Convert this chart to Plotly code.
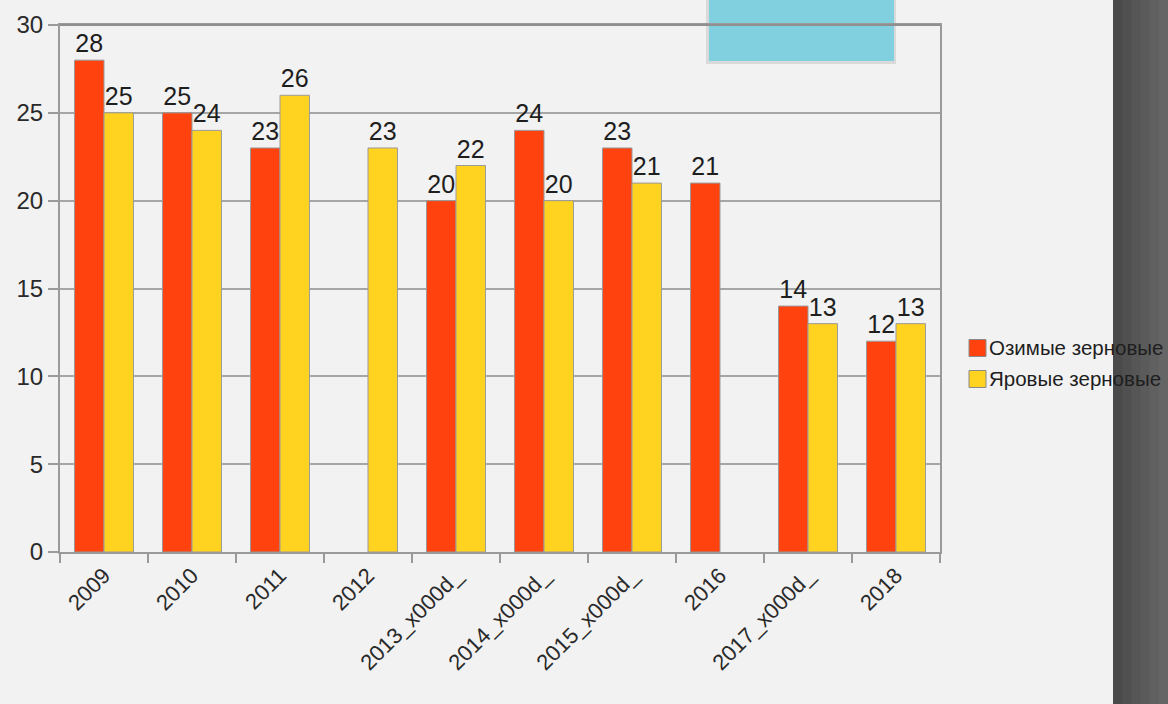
import plotly.graph_objects as go

categories = ["2009", "2010", "2011", "2012", "2013_x000d_", "2014_x000d_",
              "2015_x000d_", "2016", "2017_x000d_", "2018"]
winter = [28, 25, 23, None, 20, 24, 23, 21, 14, 12]
spring = [25, 24, 26, 23, 22, 20, 21, None, 13, 13]
series_names = ["Озимые зерновые", "Яровые зерновые"]
colors = ["#ff420e", "#ffd320"]

W, H = 1168, 704
ML, MR, MT, MB = 60, 228, 25, 152
PW = W - ML - MR
PH = H - MT - MB

def px_x(x):
    return (x - ML) / PW

def px_y(y):
    return (H - MB - y) / PH

fig = go.Figure()
for name, vals, col in zip(series_names, [winter, spring], colors):
    fig.add_trace(go.Bar(
        x=categories, y=vals, name=name,
        marker=dict(color=col, line=dict(color="#9a9a9a", width=1)),
        text=[("" if v is None else str(v)) for v in vals],
        textposition="outside", cliponaxis=False, constraintext="none",
        textfont=dict(size=25, color="#1e1e1e"),
    ))
# empty helper trace so the pixel-scaled overlay axis (used for the legend labels) is drawn
fig.add_trace(go.Scatter(x=[], y=[], xaxis="x", yaxis="y2", showlegend=False, hoverinfo="skip"))

shapes = []
# dark band on the right (stepped shading)
band_cols = ["#4a4a4a", "#505050", "#565656", "#5b5b5b", "#606060", "#656565"]
x0 = 1113
step = (W - x0) / len(band_cols)
for i, c in enumerate(band_cols):
    shapes.append(dict(type="rect", xref="paper", yref="paper",
                       x0=px_x(x0 + i * step), x1=px_x(x0 + (i + 1) * step + 1),
                       y0=px_y(H + 2), y1=px_y(-2), fillcolor=c, line_width=0, layer="below"))
# cyan box shadow and box at top
shapes.append(dict(type="rect", xref="paper", yref="paper",
                   x0=px_x(706), x1=px_x(896), y0=px_y(64), y1=px_y(-5),
                   fillcolor="rgba(0,0,0,0.10)", line_width=0, layer="below"))
shapes.append(dict(type="rect", xref="paper", yref="paper",
                   x0=px_x(709), x1=px_x(894), y0=px_y(61), y1=px_y(-5),
                   fillcolor="#80d0df", line_width=0, layer="below"))
# top frame line (drawn above the cyan box)
shapes.append(dict(type="line", xref="paper", yref="paper", x0=0, x1=1, y0=1, y1=1,
                   line=dict(color="#8f8f8f", width=2), layer="above"))

# custom legend keys
legend_rows = [348, 379]
for col, yc in zip(colors, legend_rows):
    shapes.append(dict(type="rect", xref="paper", yref="paper",
                       x0=px_x(969), x1=px_x(986), y0=px_y(yc + 8.5), y1=px_y(yc - 8.5),
                       fillcolor=col, line=dict(color="#8a8a8a", width=1)))

fig.update_layout(
    width=W, height=H,
    margin=dict(l=ML, r=MR, t=MT, b=MB, autoexpand=False),
    paper_bgcolor="#f2f2f2", plot_bgcolor="rgba(0,0,0,0)",
    font=dict(family="Liberation Sans, Arial, sans-serif", color="#333"),
    barmode="group", bargap=0.33, bargroupgap=0,
    shapes=shapes,
    showlegend=False,
    xaxis=dict(
        type="category", tickangle=-45, tickfont=dict(size=22, color="#2a2a2a"),
        showline=True, linecolor="#9a9a9a", linewidth=2, mirror=True,
        ticks="outside", tickson="boundaries", ticklen=9, tickcolor="#9a9a9a", tickwidth=2,
        showgrid=False,
    ),
    yaxis=dict(
        range=[0, 30], dtick=5, tickfont=dict(size=24, color="#2a2a2a"),
        showline=True, linecolor="#9a9a9a", linewidth=2, mirror=True,
        ticks="outside", ticklen=10, tickcolor="#9a9a9a", tickwidth=2,
        showgrid=True, gridcolor="#a6a6a6", gridwidth=2, zeroline=False,
    ),
    # legend labels: tick labels of a hidden pixel-scaled axis on the right
    yaxis2=dict(
        overlaying="y", side="right", range=[H - MB, MT], fixedrange=True,
        tickmode="array", tickvals=legend_rows, ticktext=series_names,
        ticks="", showgrid=False, showline=False, zeroline=False,
        ticklabelstandoff=988 - (W - MR),
        tickfont=dict(size=20.5, color="#1e1e1e"),
    ),
)

fig.write_html("out.html", config={"displayModeBar": False},
               post_script="document.body.style.margin='0';document.body.style.overflow='hidden';")
